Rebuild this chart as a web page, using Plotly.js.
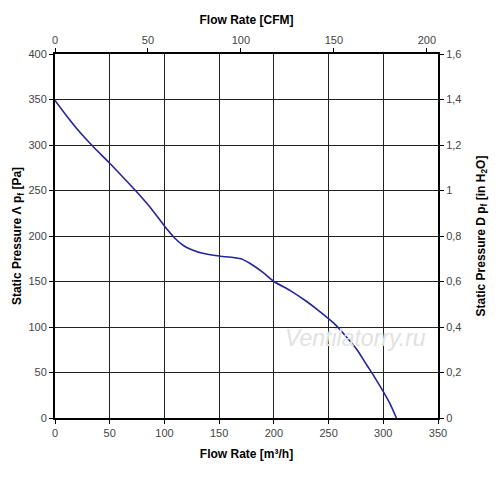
<!DOCTYPE html>
<html>
<head>
<meta charset="utf-8">
<script src="https://cdn.plot.ly/plotly-3.0.1.min.js"></script>
<style>html,body{margin:0;padding:0;background:#fff;}#chart{width:500px;height:478px;}</style>
</head>
<body>
<div id="chart"></div>
<script>
// Flow rate [m3/h] and static pressure [Pa]
const flowM3h = [0, 10, 22, 35, 50, 65, 75, 88, 100, 110, 118, 125, 135, 150, 165, 170, 178, 190, 200, 215, 230, 242, 255, 265, 276, 285, 292, 300, 306, 312];
const pressurePa = [349, 333, 315, 298, 280, 261, 248, 230, 211, 197, 189, 185, 181, 178, 176, 175, 170, 160, 150, 140, 128, 117, 104, 91, 75, 58, 45, 29, 16, 0];

const M3H_PER_CFM = 1.699;
const PA_PER_INH2O = 250;
const flowCFM = flowM3h.map(v => v / M3H_PER_CFM);
const pressureInH2O = pressurePa.map(v => v / PA_PER_INH2O);

const watermark = "Ventilatorry.ru";

const tickFont = {family: "Liberation Sans, Arial, sans-serif", size: 11, color: "#444"};
const titleFont = {family: "Liberation Sans, Arial, sans-serif", size: 12, color: "#000", weight: "bold"};

const traces = [
  {x: flowM3h, y: pressurePa, type: "scatter", mode: "lines",
   line: {color: "#25259a", width: 1.6, shape: "spline", smoothing: 0.6},
   xaxis: "x", yaxis: "y", hoverinfo: "skip", showlegend: false},
  {x: flowCFM, y: pressureInH2O, type: "scatter", mode: "lines",
   line: {color: "rgba(0,0,0,0)", width: 0},
   xaxis: "x2", yaxis: "y2", hoverinfo: "skip", showlegend: false}
];

const layout = {
  width: 500, height: 478,
  margin: {l: 55, r: 62, t: 54, b: 60},
  paper_bgcolor: "#fff", plot_bgcolor: "#fff",
  separators: ", ",
  font: {family: "Liberation Sans, Arial, sans-serif"},
  xaxis: {
    range: [0, 350], dtick: 50, tick0: 0,
    showgrid: true, gridcolor: "#222", gridwidth: 1,
    showline: true, linecolor: "#000", linewidth: 2,
    ticks: "outside", ticklen: 4, tickcolor: "#000", tickwidth: 1,
    tickfont: tickFont, zeroline: false,
    title: {text: "Flow Rate [m³/h]", font: titleFont, standoff: 11}
  },
  yaxis: {
    range: [0, 400], dtick: 50, tick0: 0,
    showgrid: true, gridcolor: "#222", gridwidth: 1,
    showline: true, linecolor: "#000", linewidth: 2,
    ticks: "outside", ticklen: 4, tickcolor: "#000", tickwidth: 1,
    tickfont: tickFont, zeroline: false,
    title: {text: "Static Pressure Λ p<sub>f</sub> [Pa]", font: titleFont, standoff: 4}
  },
  xaxis2: {
    overlaying: "x", side: "top", anchor: "y",
    range: [0, 350 / M3H_PER_CFM], dtick: 50, tick0: 0,
    showgrid: false, showline: true, linecolor: "#000", linewidth: 2,
    ticks: "outside", ticklen: 4, tickcolor: "#000", tickwidth: 1,
    tickfont: tickFont, zeroline: false,
    title: {text: "Flow Rate [CFM]", font: titleFont, standoff: 6}
  },
  yaxis2: {
    overlaying: "y", side: "right", anchor: "x",
    range: [0, 400 / PA_PER_INH2O], dtick: 0.2, tick0: 0,
    showgrid: false, showline: true, linecolor: "#000", linewidth: 2,
    ticks: "outside", ticklen: 4, tickcolor: "#000", tickwidth: 1,
    tickfont: tickFont, zeroline: false,
    title: {text: "Static Pressure D p<sub>f</sub> [in H<sub>2</sub>O]", font: titleFont, standoff: 16}
  },
  annotations: [{
    text: "<i>" + watermark + "</i>", x: 275, y: 88, xref: "x", yref: "y",
    showarrow: false,
    font: {family: "Liberation Sans, Arial, sans-serif", size: 23, color: "#e2e2e2"}
  }]
};

Plotly.newPlot("chart", traces, layout, {displayModeBar: false, staticPlot: true});
</script>
</body>
</html>
